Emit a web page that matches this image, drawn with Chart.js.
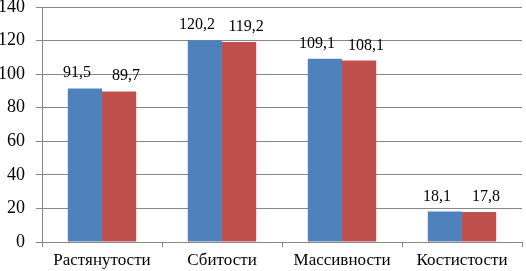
<!DOCTYPE html>
<html>
<head>
<meta charset="utf-8">
<script src="https://cdn.jsdelivr.net/npm/chart.js@4/dist/chart.umd.min.js"></script>
<style>
  html, body { margin: 0; padding: 0; background: #fff; }
  #wrap { width: 526px; height: 271px; }
</style>
</head>
<body>
<div id="wrap"><canvas id="chart"></canvas></div>
<script>
const categories = ['Растянутости', 'Сбитости', 'Массивности', 'Костистости'];
const seriesA = [91.5, 120.2, 109.1, 18.1];
const seriesB = [89.7, 119.2, 108.1, 17.8];
const yTicks = [0, 20, 40, 60, 80, 100, 120, 140];

const serif = '"Liberation Serif", "Times New Roman", serif';

// подписи значений над столбиками (раздвинуты в стороны, как в Excel)
const valueLabels = {
    id: 'valueLabels',
    afterDatasetsDraw(chart) {
        const ctx = chart.ctx;
        ctx.save();
        ctx.font = '16px ' + serif;
        ctx.fillStyle = '#000';
        ctx.textAlign = 'center';
        ctx.textBaseline = 'alphabetic';
        chart.data.datasets.forEach((ds, i) => {
            const shift = i === 0 ? -8 : 7;
            chart.getDatasetMeta(i).data.forEach((bar, j) => {
                const txt = ds.data[j].toFixed(1).replace('.', ',');
                ctx.fillText(txt, bar.x + shift, bar.y - 11);
            });
        });
        ctx.restore();
    }
};

new Chart(document.getElementById('chart'), {
    type: 'bar',
    data: {
        labels: categories,
        datasets: [
            { data: seriesA, backgroundColor: '#4F81BD', barPercentage: 1, categoryPercentage: 0.57 },
            { data: seriesB, backgroundColor: '#C0504D', barPercentage: 1, categoryPercentage: 0.57 }
        ]
    },
    options: {
        responsive: true,
        maintainAspectRatio: false,
        animation: false,
        layout: { padding: { top: 7, right: 4, left: 0, bottom: 0 } },
        plugins: { legend: { display: false }, tooltip: { enabled: false } },
        scales: {
            x: {
                afterFit: axis => { axis.height = 29; axis.paddingLeft = 0; axis.paddingRight = 0; },
                grid: { drawOnChartArea: false, drawTicks: true, tickLength: 5, color: '#868686' },
                border: { color: '#868686' },
                ticks: { color: '#000', font: { family: serif, size: 17 }, padding: 3 }
            },
            y: {
                min: 0,
                max: 140,
                afterBuildTicks: axis => { axis.ticks = yTicks.map(v => ({ value: v })); },
                afterFit: axis => { axis.width = 42; axis.paddingTop = 0; axis.paddingBottom = 0; },
                grid: { color: '#868686', tickLength: 6 },
                border: { color: '#868686' },
                ticks: { color: '#000', font: { family: serif, size: 18 }, padding: 11 }
            }
        }
    },
    plugins: [valueLabels]
});
</script>
</body>
</html>
